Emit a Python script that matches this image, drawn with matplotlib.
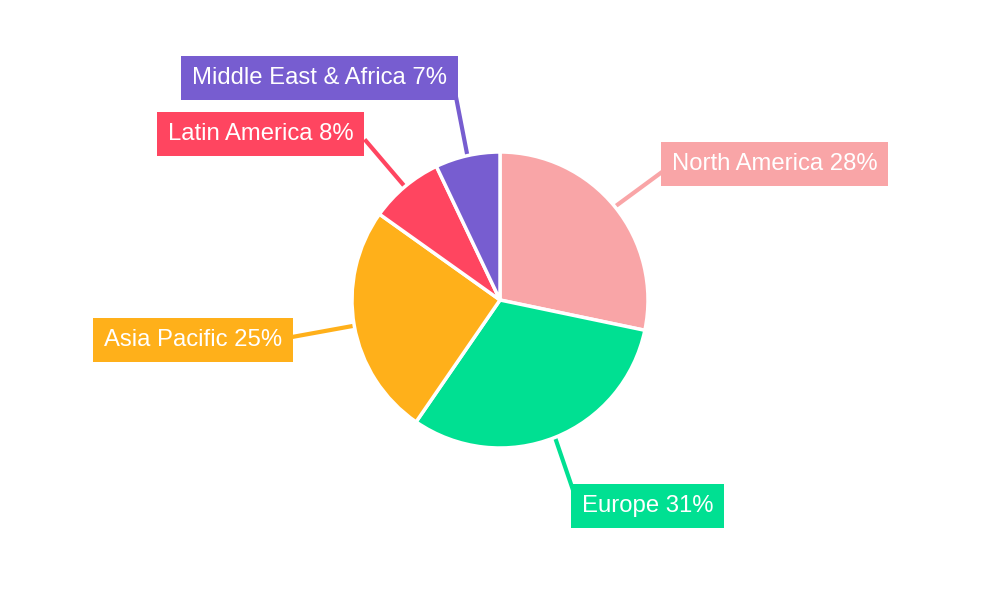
import numpy as np
import matplotlib
matplotlib.use('Agg')
import matplotlib.pyplot as plt

regions = ['North America', 'Europe', 'Asia Pacific', 'Latin America', 'Middle East & Africa']
shares = [28, 31, 25, 8, 7]
colors = ['#F9A5A7', '#00E092', '#FFB01A', '#FF4560', '#775DD0']

# label box: left x, center y (pixels from top); leader end point on box
label_pos = [(662, 162), (572, 504), (94, 338), (158, 132), (182, 76)]
leader_end = [(662, 172), (573, 490), (292, 337), (366, 141), (456, 97)]

plt.rcParams['font.family'] = ['Liberation Sans', 'DejaVu Sans']

fig = plt.figure(figsize=(10, 6), dpi=100)
ax = fig.add_axes([0, 0, 1, 1])

cx, cy, r = 500, 300, 148
wedges, _ = ax.pie(shares, colors=colors, startangle=90, counterclock=False,
                   center=(cx, cy), radius=r,
                   wedgeprops=dict(edgecolor='white', linewidth=2.5))
ax.set_xlim(0, 1000)
ax.set_ylim(0, 600)
ax.set_aspect('equal')
ax.axis('off')

for w, name, pct, col, (lx, ly), (ex, ey) in zip(wedges, regions, shares, colors,
                                                  label_pos, leader_end):
    ang = np.deg2rad((w.theta1 + w.theta2) / 2)
    sx, sy = cx + r * np.cos(ang), cy + r * np.sin(ang)
    ax.text(lx + 10, 600 - ly - 2, f'{name} {pct}%', fontsize=17.2, color='white',
            ha='left', va='center', zorder=5,
            bbox=dict(boxstyle='square,pad=0.45', facecolor=col, edgecolor='none'))
    ax.plot([sx, ex], [sy, 600 - ey], color=col, linewidth=3, zorder=0)

fig.savefig('out.png', dpi=100, facecolor='white')
